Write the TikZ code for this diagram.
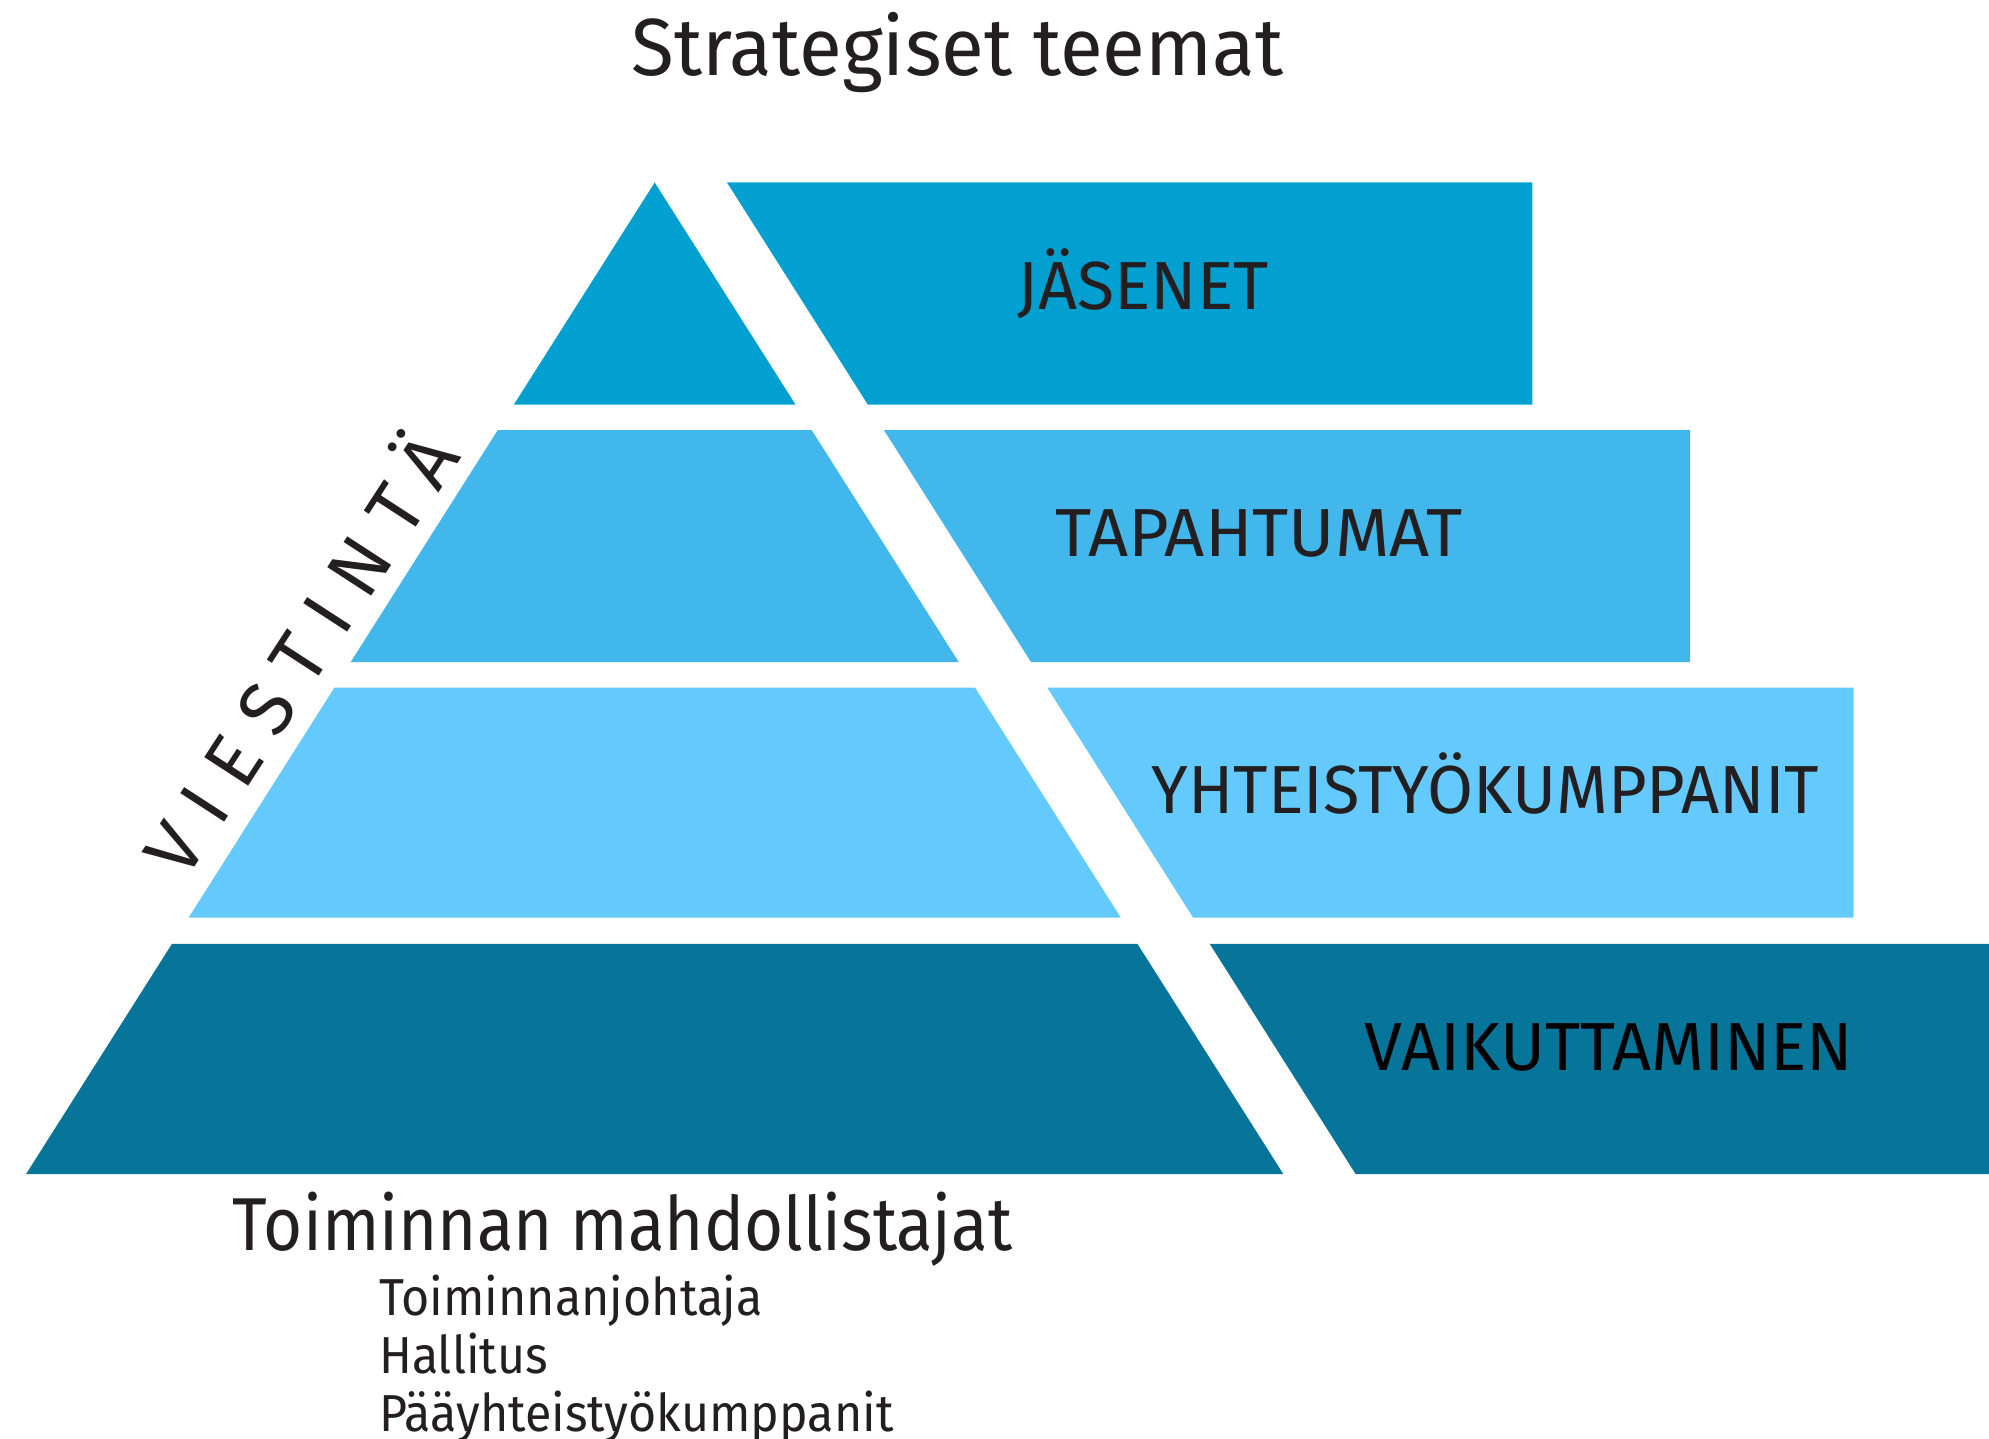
\documentclass[tikz,border=0pt]{standalone}
\usepackage{fontspec}
\setmainfont{Fira Sans}
\definecolor{cA}{HTML}{029FD1}
\definecolor{cB}{HTML}{42B7EB}
\definecolor{cC}{HTML}{64CAFE}
\definecolor{cD}{HTML}{077599}
\definecolor{ink}{HTML}{231F20}
\begin{document}
\begin{tikzpicture}[x=1pt,y=-1pt,
  lbl/.style={text=ink, inner sep=0pt, anchor=base, font=\fontsize{68}{80}\selectfont},
  big/.style={text=ink, inner sep=0pt, font=\fontsize{75}{90}\selectfont\addfontfeature{FakeStretch=0.895}},
  sub/.style={text=ink, inner sep=0pt, anchor=base west, font=\fontsize{52}{60}\selectfont\addfontfeature{FakeStretch=0.93}}]
\useasboundingbox (0,0) rectangle (1989,1439);
% pyramid layers
\fill[cA] (654.7,182.5) -- (795.6,404.7) -- (513.8,404.7) -- cycle;
\fill[cA] (727,182.5) -- (1532.4,182.5) -- (1532.4,404.7) -- (867.9,404.7) -- cycle;
\fill[cB] (497.8,430) -- (811.6,430) -- (958.8,662.2) -- (350.6,662.2) -- cycle;
\fill[cB] (883.9,430) -- (1690,430) -- (1690,662.2) -- (1031.1,662.2) -- cycle;
\fill[cC] (334.5,687.5) -- (974.9,687.5) -- (1120.7,917.5) -- (188.7,917.5) -- cycle;
\fill[cC] (1047.2,687.5) -- (1853.5,687.5) -- (1853.5,917.5) -- (1193,917.5) -- cycle;
\fill[cD] (172,943.8) -- (1137.4,943.8) -- (1283.3,1174) -- (26.1,1174) -- cycle;
\fill[cD] (1209.7,943.8) -- (1989,943.8) -- (1989,1174) -- (1355.6,1174) -- cycle;
% labels
\node[text=ink, inner sep=0pt, anchor=base, font=\fontsize{81}{95}\selectfont\addfontfeature{FakeStretch=0.966}] (title) at (957.5,76) {Strategiset teemat};
\node[lbl] (jas) at (1143,309) {JÄSENET};
\node[lbl, font=\fontsize{68}{80}\selectfont\addfontfeature{FakeStretch=1.03}] (tap) at (1259,556) {TAPAHTUMAT};
\node[lbl, font=\fontsize{68}{80}\selectfont\addfontfeature{FakeStretch=0.98}] (yht) at (1485.5,813) {YHTEISTYÖKUMPPANIT};
\node[lbl, text=black] (vai) at (1609,1070.7) {VAIKUTTAMINEN};
\node[text=ink, inner sep=0pt, rotate=57, font=\fontsize{76}{86}\selectfont\addfontfeature{LetterSpace=28}] (vie) at (296,651) {VIESTINTÄ};
\node[big, anchor=base west] (tm) at (232.7,1250) {Toiminnan mahdollistajat};
\node[sub] (s1) at (379,1315) {Toiminnanjohtaja};
\node[sub] (s2) at (379,1373) {Hallitus};
\node[sub] (s3) at (379,1431) {Pääyhteistyökumppanit};
\end{tikzpicture}
\end{document}
